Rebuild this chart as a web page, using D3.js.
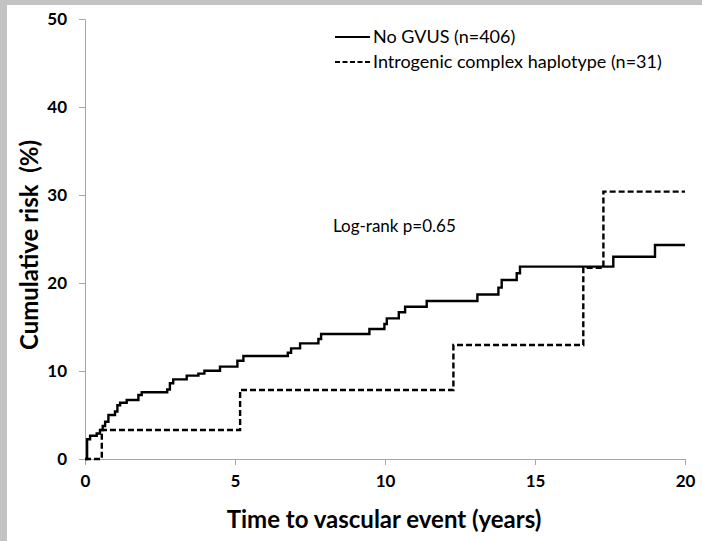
<!DOCTYPE html>
<html>
<head>
<meta charset="utf-8">
<script src="https://cdn.jsdelivr.net/npm/d3@7"></script>
<style>
  body { margin: 0; background: #fff; }
  svg { display: block; font-family: Lato, "Open Sans", sans-serif; }
</style>
</head>
<body>
<div id="chart"></div>
<script>
// step points of the two cumulative-risk curves (years, %)
const noGvusTime = [0, 0.07, 0.17, 0.39, 0.5, 0.59, 0.67, 0.78, 1.0, 1.08, 1.17, 1.39, 1.78, 1.89,
  2.74, 2.83, 2.94, 3.39, 3.78, 3.98, 4.5, 5.08, 5.28, 6.76, 6.87, 7.17, 7.78, 7.87, 9.48, 9.98,
  10.06, 10.46, 10.67, 11.39, 13.08, 13.78, 13.89, 14.39, 14.5, 17.61, 19.0, 20]
const noGvusRisk = [0, 2.24, 2.65, 2.9, 3.3, 3.75, 4.24, 5.0, 5.4, 6.1, 6.4, 6.7, 7.27, 7.58,
  7.9, 8.6, 9.05, 9.47, 9.7, 10.03, 10.5, 11.17, 11.7, 12.08, 12.57, 13.14, 13.64, 14.2, 14.77, 15.34,
  15.98, 16.67, 17.3, 17.95, 18.7, 19.47, 20.34, 21.1, 21.86, 22.99, 24.32, 24.32]

const haploTime = [0, 0.56, 5.17, 12.28, 16.61, 17.28, 20]
const haploRisk = [0, 3.3, 7.84, 12.95, 21.74, 30.38, 30.38]

const xTicks = [0, 5, 10, 15, 20]
const yTicks = [0, 10, 20, 30, 40, 50]
const legendLabels = ['No GVUS (n=406)', 'Introgenic complex haplotype (n=31)']

const width = 702
const height = 541
const margin = { top: 19, right: 17, bottom: 82, left: 85 }

const svg = d3.select('#chart').append('svg').attr('width', width).attr('height', height)

// grey frame of the original screenshot
svg.append('rect').attr('x', 0).attr('y', 0).attr('width', width).attr('height', 5).attr('fill', '#c3c3c3')
svg.append('rect').attr('x', 0).attr('y', 0).attr('width', 7).attr('height', height).attr('fill', '#c3c3c3')

const x = d3.scaleLinear().domain([0, 20]).range([margin.left, width - margin.right])
const y = d3.scaleLinear().domain([0, 50]).range([height - margin.bottom, margin.top])

const xAxis = svg
  .append('g')
  .attr('transform', `translate(0,${y(0)})`)
  .call(d3.axisBottom(x).tickValues(xTicks).tickSize(6).tickPadding(10).tickSizeOuter(0))
const yAxis = svg
  .append('g')
  .attr('transform', `translate(${x(0)},0)`)
  .call(d3.axisLeft(y).tickValues(yTicks).tickSize(6).tickPadding(12).tickSizeOuter(0))

for (const g of [xAxis, yAxis]) {
  g.selectAll('path, line').attr('stroke', '#a6a6a6').attr('stroke-width', 1)
  g.selectAll('text')
    .attr('fill', '#000')
    .attr('font-size', 17)
    .attr('font-weight', 'bold')
    .attr('font-family', 'Lato, sans-serif')
}

// axis titles
svg
  .append('text')
  .attr('x', 384)
  .attr('y', 528)
  .attr('text-anchor', 'middle')
  .attr('font-size', 24)
  .attr('font-weight', 'bold')
  .text('Time to vascular event (years)')

svg
  .append('text')
  .attr('transform', 'translate(38,245) rotate(-90)')
  .attr('text-anchor', 'middle')
  .attr('font-size', 24)
  .attr('font-weight', 'bold')
  .style('white-space', 'pre')
  .text('Cumulative risk  (%)')

const stepLine = (times) =>
  d3
    .line()
    .curve(d3.curveStepAfter)
    .x((d, i) => x(times[i]))
    .y((d) => y(d))

svg
  .append('path')
  .datum(noGvusRisk)
  .attr('fill', 'none')
  .attr('stroke', '#000')
  .attr('stroke-width', 2.4)
  .attr('d', stepLine(noGvusTime))

svg
  .append('path')
  .datum(haploRisk)
  .attr('fill', 'none')
  .attr('stroke', '#000')
  .attr('stroke-width', 2.4)
  .attr('stroke-dasharray', '6,3')
  .attr('d', stepLine(haploTime))

// legend
const legend = svg.append('g')
legendLabels.forEach((label, i) => {
  const ly = 37 + i * 25
  legend
    .append('line')
    .attr('x1', 335)
    .attr('x2', 370)
    .attr('y1', ly)
    .attr('y2', ly)
    .attr('stroke', '#000')
    .attr('stroke-width', 2)
    .attr('stroke-dasharray', i === 1 ? '5,2.5' : null)
  legend
    .append('text')
    .attr('x', 373)
    .attr('y', ly + 6)
    .attr('font-size', 18)
    .text(label)
})

svg.append('text').attr('x', 333).attr('y', 232).attr('font-size', 17).text('Log-rank p=0.65')
</script>
</body>
</html>
